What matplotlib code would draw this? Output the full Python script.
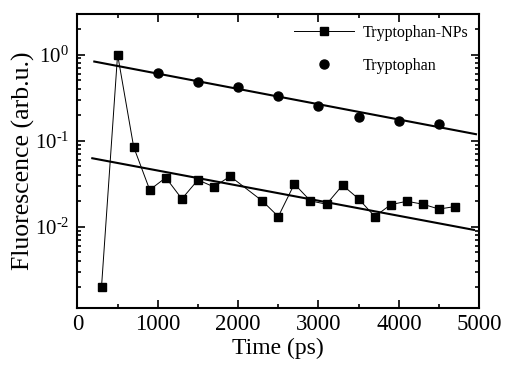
import matplotlib
matplotlib.use("Agg")
import numpy as np
import matplotlib.pyplot as plt
from matplotlib.ticker import MultipleLocator, LogLocator, NullFormatter, FuncFormatter

plt.rcParams['font.family'] = ['Liberation Serif', 'DejaVu Serif']
plt.rcParams['mathtext.fontset'] = 'custom'
plt.rcParams['mathtext.rm'] = 'Liberation Serif'
plt.rcParams['mathtext.it'] = 'Liberation Serif:italic'

# Tryptophan-NPs (squares)
np_time = [300, 500, 700, 900, 1100, 1300, 1500, 1700, 1900, 2300, 2500,
           2700, 2900, 3100, 3300, 3500, 3700, 3900, 4100, 4300, 4500, 4700]
np_fluo = [0.0020, 1.0, 0.0844, 0.0267, 0.0371, 0.0210, 0.0349, 0.0289, 0.0385,
           0.0199, 0.0131, 0.0313, 0.0199, 0.0182, 0.0303, 0.0210, 0.0131,
           0.0180, 0.0197, 0.0182, 0.0160, 0.0171]

# Tryptophan (circles)
tr_time = [1000, 1500, 2000, 2500, 3000, 3500, 4000, 4500]
tr_fluo = [0.607, 0.481, 0.425, 0.331, 0.253, 0.187, 0.169, 0.156]

# exponential fit lines (end points)
fit_upper_x = [210, 4960]
fit_upper_y = [0.829, 0.1186]
fit_lower_x = [185, 4935]
fit_lower_y = [0.0623, 0.00915]

fig = plt.figure(figsize=(5.06, 3.65), dpi=100)
ax = fig.add_axes([0.153, 0.156, 0.794, 0.806])

ax.plot(fit_upper_x, fit_upper_y, color='black', lw=1.5)
ax.plot(fit_lower_x, fit_lower_y, color='black', lw=1.5)
ax.plot(np_time, np_fluo, color='black', lw=0.7, marker='s', markersize=6,
        label='Tryptophan-NPs')
ax.plot(tr_time, tr_fluo, color='black', lw=0, marker='o', markersize=6.5,
        label='Tryptophan')

ax.set_yscale('log')
ax.set_xlim(0, 5000)
ax.set_ylim(1.13e-3, 2.97)

ax.xaxis.set_major_locator(MultipleLocator(1000))
ax.xaxis.set_minor_locator(MultipleLocator(500))
ax.yaxis.set_major_locator(LogLocator(base=10, numticks=10))
ax.yaxis.set_minor_locator(LogLocator(base=10, subs=range(2, 10), numticks=10))
ax.yaxis.set_minor_formatter(NullFormatter())


def log_label(v, pos):
    e = int(round(np.log10(v)))
    return r'$\mathdefault{10^{\text{%d}}}$' % e


ax.yaxis.set_major_formatter(FuncFormatter(log_label))

ax.tick_params(which='both', direction='in', top=True, right=True, width=1.2)
ax.tick_params(axis='x', labelsize=16.5, pad=4)
ax.tick_params(axis='y', labelsize=15, pad=6)
ax.tick_params(which='major', length=6)
ax.tick_params(which='minor', length=3)
for s in ax.spines.values():
    s.set_linewidth(1.5)

ax.set_xlabel('Time (ps)', fontsize=17, labelpad=2)
ax.set_ylabel('Fluorescence (arb.u.)', fontsize=18.5)
ax.yaxis.set_label_coords(-0.106, 0.5)

ax.legend(loc='upper right', frameon=False, fontsize=11.5, handlelength=3.8,
          handletextpad=0.5, borderaxespad=0.3, labelspacing=1.05)

fig.savefig('out.png', dpi=100)
